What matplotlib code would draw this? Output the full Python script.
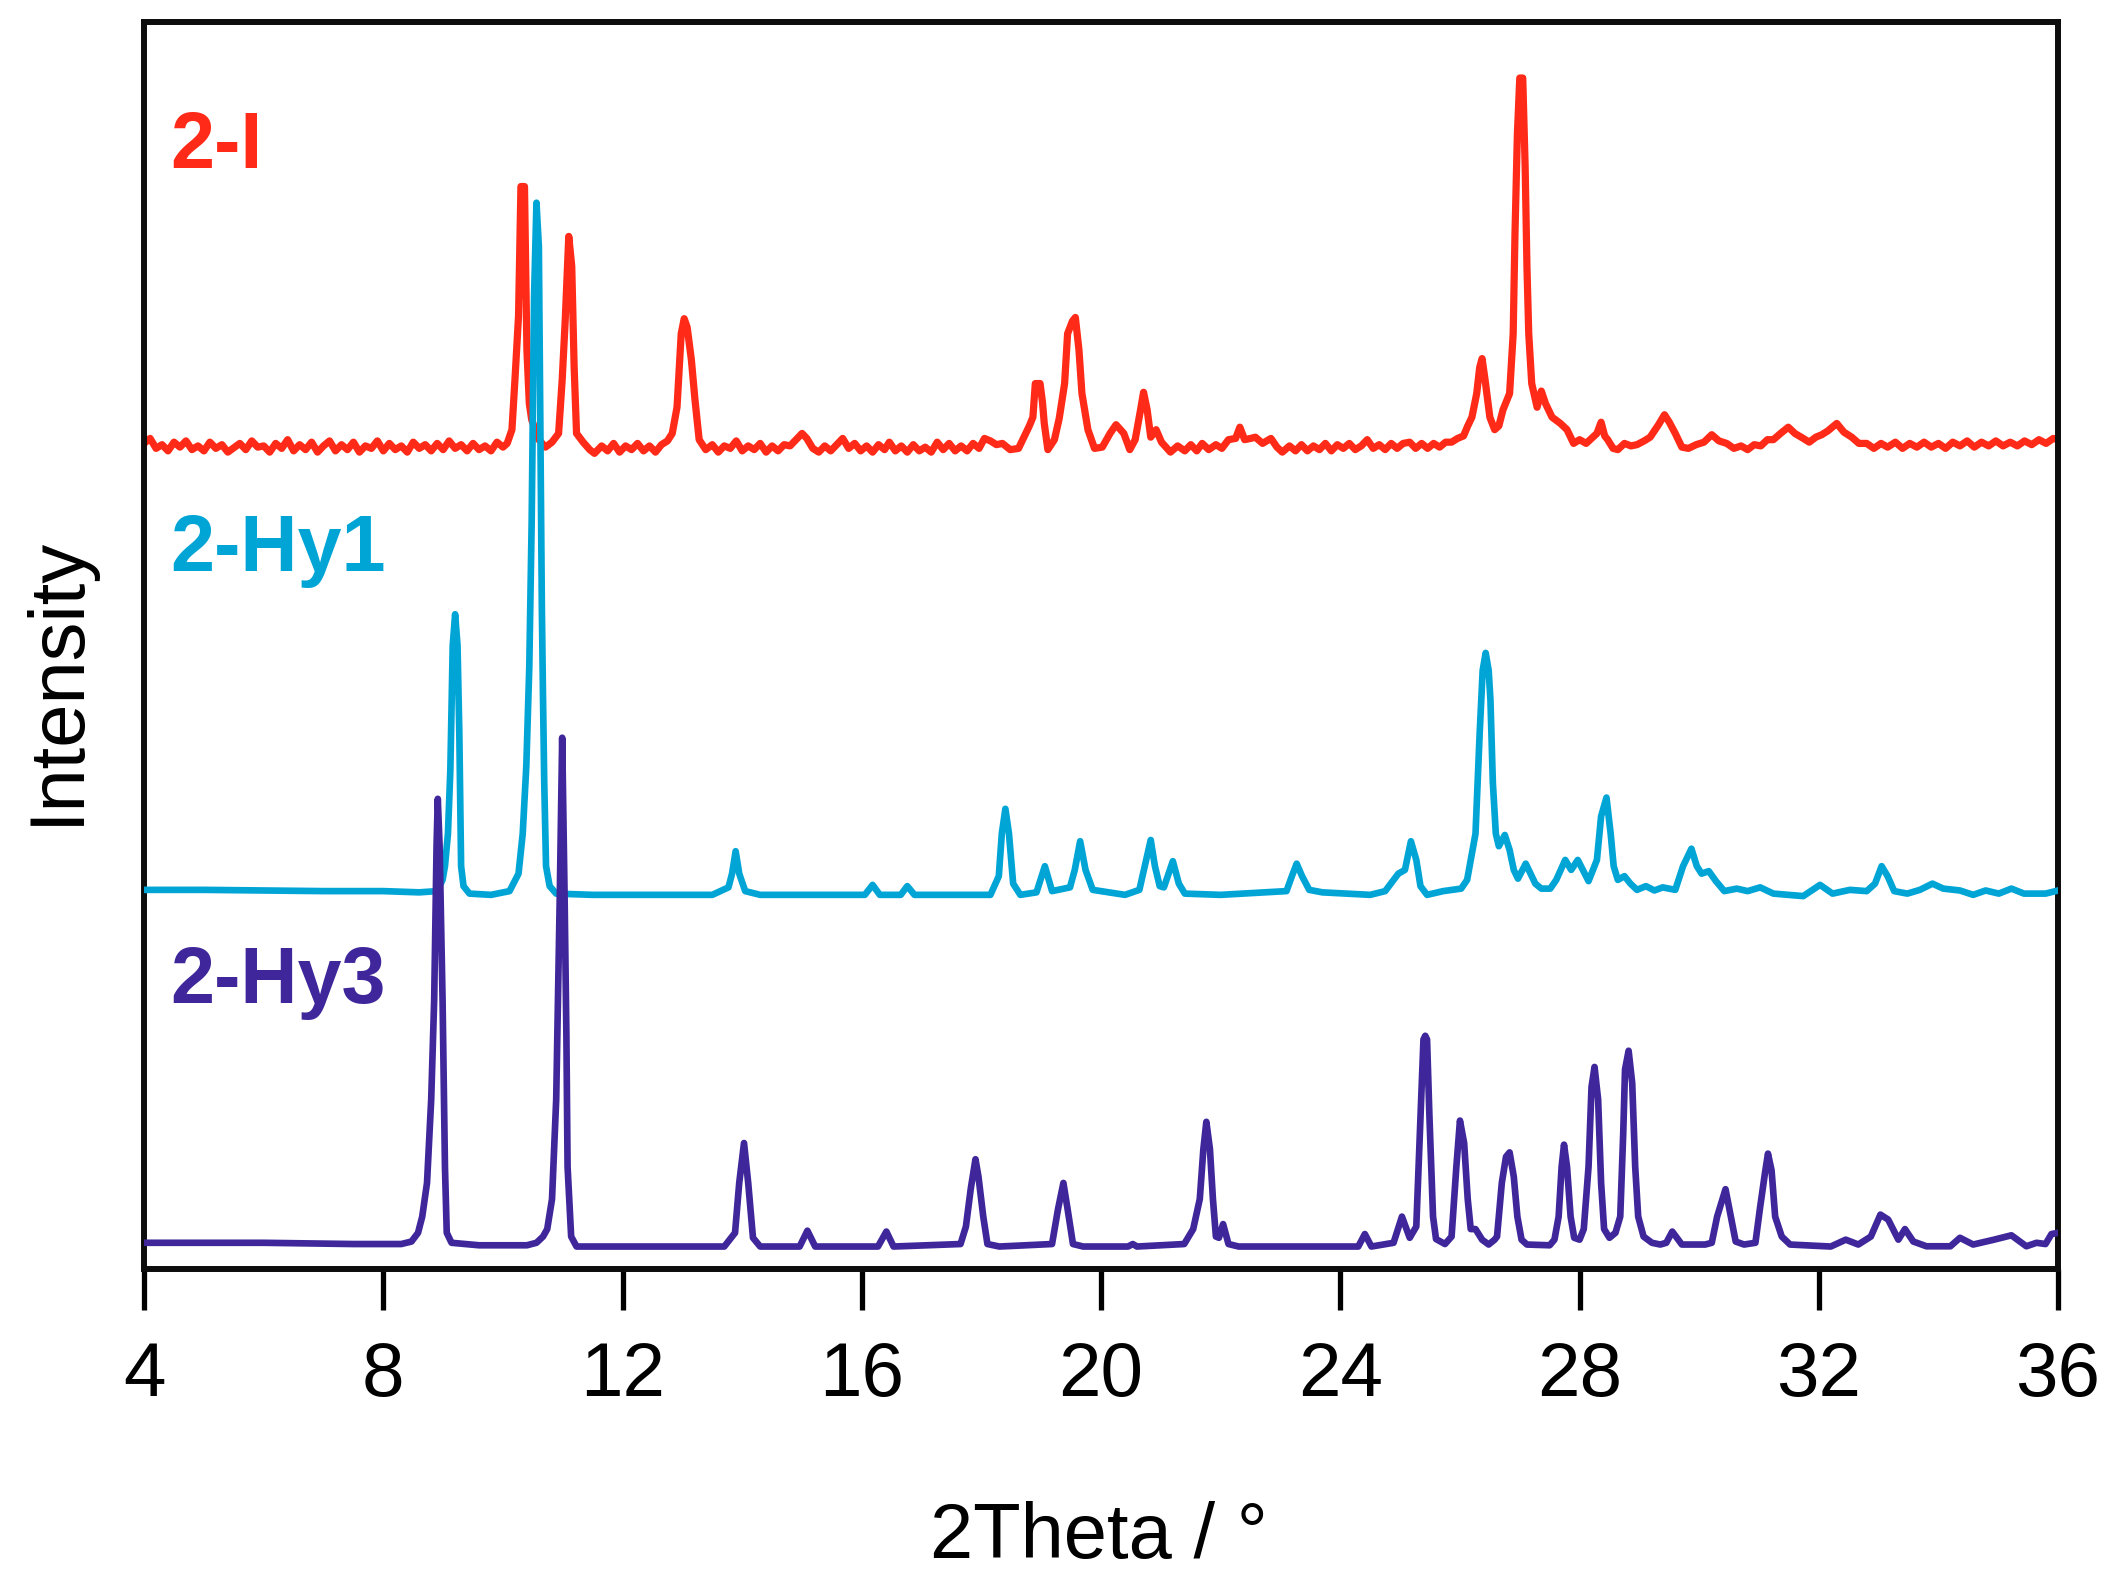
import matplotlib
matplotlib.use("Agg")
import matplotlib.pyplot as plt

plt.rcParams['font.family'] = ['Liberation Sans', 'DejaVu Sans']

# ---------------- data ----------------
# y values: percent of the plot height (offset stacked traces)
red_x = [4.00, 4.10, 4.20, 4.30, 4.40, 4.50, 4.60, 4.70, 4.80, 4.90, 5.00, 5.10, 5.20, 5.30, 5.40,
         5.60, 5.70, 5.80, 5.90, 6.00, 6.10, 6.20, 6.30, 6.40, 6.50, 6.60, 6.70, 6.80, 6.90, 7.00,
         7.10, 7.20, 7.30, 7.40, 7.50, 7.60, 7.70, 7.80, 7.90, 8.00, 8.10, 8.20, 8.30, 8.40, 8.50,
         8.60, 8.70, 8.80, 8.90, 9.00, 9.10, 9.20, 9.30, 9.40, 9.50, 9.60, 9.70, 9.80, 9.90, 10.00,
         10.07, 10.15, 10.20, 10.26, 10.30, 10.36, 10.40, 10.44, 10.48, 10.60, 10.71, 10.82, 10.93,
         10.99, 11.04, 11.10, 11.15, 11.19, 11.23, 11.34, 11.45, 11.53, 11.65, 11.75, 11.85, 11.95,
         12.05, 12.15, 12.25, 12.35, 12.45, 12.55, 12.65, 12.75, 12.83, 12.91, 12.98, 13.03, 13.08,
         13.15, 13.21, 13.28, 13.39, 13.50, 13.60, 13.70, 13.80, 13.90, 14.00, 14.10, 14.20, 14.30,
         14.40, 14.50, 14.60, 14.70, 14.80, 14.90, 15.00, 15.08, 15.18, 15.28, 15.38, 15.48, 15.58,
         15.68, 15.78, 15.88, 15.98, 16.08, 16.18, 16.28, 16.38, 16.46, 16.56, 16.66, 16.76, 16.86,
         16.96, 17.06, 17.16, 17.26, 17.36, 17.46, 17.56, 17.66, 17.76, 17.86, 17.96, 18.05, 18.15,
         18.25, 18.35, 18.48, 18.62, 18.72, 18.80, 18.86, 18.90, 18.98, 19.02, 19.05, 19.11, 19.22,
         19.30, 19.39, 19.44, 19.52, 19.57, 19.63, 19.68, 19.78, 19.89, 20.02, 20.15, 20.25, 20.38,
         20.48, 20.57, 20.66, 20.71, 20.77, 20.83, 20.92, 21.01, 21.16, 21.28, 21.40, 21.50, 21.60,
         21.69, 21.80, 21.92, 22.02, 22.13, 22.25, 22.32, 22.40, 22.50, 22.58, 22.70, 22.84, 22.94,
         23.03, 23.15, 23.25, 23.35, 23.45, 23.55, 23.65, 23.75, 23.85, 23.95, 24.05, 24.15, 24.25,
         24.35, 24.45, 24.55, 24.65, 24.75, 24.85, 24.95, 25.05, 25.16, 25.26, 25.36, 25.46, 25.56,
         25.66, 25.76, 25.86, 25.96, 26.06, 26.13, 26.20, 26.28, 26.33, 26.37, 26.42, 26.50, 26.58,
         26.65, 26.72, 26.83, 26.89, 26.92, 26.96, 27.00, 27.05, 27.09, 27.12, 27.15, 27.20, 27.29,
         27.36, 27.43, 27.54, 27.68, 27.79, 27.90, 28.00, 28.11, 28.20, 28.29, 28.36, 28.42, 28.47,
         28.56, 28.64, 28.75, 28.86, 28.96, 29.08, 29.18, 29.25, 29.32, 29.42, 29.50, 29.60, 29.71,
         29.82, 29.95, 30.08, 30.21, 30.33, 30.46, 30.58, 30.70, 30.81, 30.92, 31.03, 31.14, 31.24,
         31.36, 31.49, 31.60, 31.74, 31.84, 31.95, 32.05, 32.15, 32.30, 32.42, 32.55, 32.67, 32.80,
         32.92, 33.04, 33.15, 33.28, 33.40, 33.52, 33.64, 33.76, 33.88, 34.00, 34.12, 34.24, 34.36,
         34.48, 34.60, 34.72, 34.84, 34.96, 35.08, 35.20, 35.32, 35.44, 35.56, 35.68, 35.80, 35.92,
         36.00]
red_y = [66.2, 66.6, 65.8, 66.1, 65.6, 66.3, 65.9, 66.4, 65.7, 66.0, 65.6, 66.3, 65.8, 66.1, 65.5,
         66.2, 65.7, 66.4, 65.9, 66.0, 65.5, 66.2, 65.8, 66.5, 65.6, 66.1, 65.7, 66.3, 65.5, 66.0,
         66.4, 65.6, 66.1, 65.7, 66.3, 65.5, 66.0, 65.8, 66.4, 65.6, 66.2, 65.7, 66.0, 65.5, 66.3,
         65.8, 66.1, 65.6, 66.2, 65.7, 66.4, 65.8, 66.1, 65.6, 66.2, 65.7, 66.0, 65.6, 66.3, 65.9,
         66.2, 67.3, 71.3, 76.4, 86.8, 86.8, 73.7, 69.4, 68.1, 66.5, 65.9, 66.3, 67.0,
         71.3, 76.0, 82.8, 80.4, 72.3, 67.0, 66.3, 65.7, 65.4, 66.0, 65.6, 66.2, 65.5,
         66.0, 65.7, 66.2, 65.6, 66.0, 65.5, 66.1, 66.4, 67.0, 69.1, 75.0, 76.2, 75.5,
         72.9, 69.7, 66.5, 65.7, 66.1, 65.5, 66.0, 65.8, 66.4, 65.6, 66.0, 65.7, 66.2,
         65.5, 66.0, 65.6, 66.1, 66.0, 66.5, 67.0, 66.6, 65.8, 65.5, 66.0, 65.6, 66.1,
         66.6, 65.8, 66.2, 65.6, 66.0, 65.5, 66.1, 65.7, 66.3, 65.6, 66.0, 65.5, 66.1,
         65.6, 65.9, 65.5, 66.3, 65.7, 66.2, 65.6, 66.0, 65.6, 66.2, 65.8, 66.6, 66.4,
         66.1, 66.2, 65.7, 65.8, 66.8, 67.6, 68.3, 71.0, 71.0, 69.5, 67.8, 65.7, 66.5,
         68.2, 71.0, 75.0, 76.0, 76.3, 73.7, 70.2, 67.3, 65.8, 65.9, 67.0, 67.7, 67.0,
         65.7, 66.5, 68.9, 70.3, 68.9, 66.7, 67.3, 66.3, 65.5, 66.0, 65.6, 66.1, 65.6,
         66.2, 65.7, 66.1, 65.8, 66.5, 66.6, 67.5, 66.5, 66.6, 66.7, 66.2, 66.6, 65.9,
         65.5, 66.0, 65.6, 66.1, 65.6, 66.0, 65.7, 66.2, 65.6, 66.1, 65.8, 66.2, 65.7,
         66.0, 66.5, 65.8, 66.1, 65.7, 66.2, 65.8, 66.2, 66.3, 65.8, 66.2, 65.8, 66.2,
         65.9, 66.3, 66.3, 66.6, 66.8, 67.6, 68.3, 70.2, 72.3, 73.0, 71.3, 68.3, 67.3,
         67.6, 68.9, 70.2, 75.0, 83.0, 91.0, 95.5, 95.5, 88.4, 80.4, 75.0, 71.0, 69.1,
         70.4, 69.4, 68.3, 67.8, 67.3, 66.2, 66.5, 66.2, 66.6, 67.0, 67.9, 66.8, 66.5,
         65.8, 65.7, 66.2, 66.0, 66.1, 66.4, 66.7, 67.2, 67.7, 68.5, 67.9, 67.0, 65.9,
         65.8, 66.1, 66.3, 66.9, 66.4, 66.2, 65.8, 66.0, 65.7, 66.1, 66.0, 66.5, 66.5,
         67.0, 67.5, 67.0, 66.6, 66.3, 66.7, 66.9, 67.2, 67.8, 67.1, 66.7, 66.2, 66.2,
         65.8, 66.2, 65.9, 66.3, 65.8, 66.2, 65.9, 66.3, 65.9, 66.2, 65.8, 66.3, 66.0,
         66.4, 65.9, 66.3, 66.0, 66.4, 66.0, 66.3, 66.0, 66.4, 66.1, 66.5, 66.2, 66.6,
         66.5]

cyan_x = [4.00, 5.00, 6.00, 7.00, 8.00, 8.60, 8.90, 8.99, 9.03, 9.08, 9.12, 9.16, 9.20, 9.24, 9.27,
          9.30, 9.34, 9.44, 9.80, 10.11, 10.26, 10.33, 10.39, 10.44, 10.48, 10.52, 10.56, 10.60,
          10.63, 10.65, 10.67, 10.69, 10.72, 10.78, 10.89, 11.50, 12.50, 13.50, 13.77, 13.83, 13.89,
          13.95, 14.05, 14.30, 15.50, 16.05, 16.18, 16.30, 16.65, 16.76, 16.88, 18.15, 18.29, 18.34,
          18.40, 18.46, 18.53, 18.65, 18.92, 19.06, 19.18, 19.48, 19.56, 19.65, 19.74, 19.86, 20.40,
          20.64, 20.73, 20.83, 20.90, 20.98, 21.05, 21.20, 21.30, 21.40, 22.00, 23.10, 23.19, 23.27,
          23.36, 23.48, 23.70, 24.50, 24.75, 24.97, 25.08, 25.18, 25.27, 25.34, 25.45, 25.72, 26.02,
          26.12, 26.26, 26.33, 26.38, 26.43, 26.48, 26.51, 26.55, 26.60, 26.65, 26.75, 26.83, 26.90,
          26.97, 27.10, 27.26, 27.36, 27.51, 27.61, 27.76, 27.86, 27.97, 28.15, 28.29, 28.36, 28.45,
          28.52, 28.57, 28.64, 28.75, 28.85, 28.96, 29.11, 29.25, 29.39, 29.60, 29.73, 29.87, 29.96,
          30.04, 30.16, 30.28, 30.42, 30.63, 30.81, 31.02, 31.24, 31.50, 31.74, 32.02, 32.23, 32.52,
          32.80, 32.94, 33.05, 33.15, 33.26, 33.48, 33.69, 33.90, 34.08, 34.36, 34.58, 34.79, 35.01,
          35.22, 35.43, 35.79, 36.00]
cyan_y = [30.4, 30.4, 30.35, 30.3, 30.3, 30.2, 30.3, 31.2, 32.3, 34.9, 40.0, 50.0, 52.5, 50.0, 43.0,
          32.3, 30.7, 30.1, 30.0, 30.3, 31.7, 34.9, 40.3, 48.3, 60.0, 78.0, 85.5, 82.0,
          65.0, 53.1, 45.6, 39.0, 32.3, 30.7, 30.1, 30.0, 30.0, 30.0, 30.6, 31.7, 33.5,
          31.7, 30.3, 30.0, 30.0, 30.0, 30.8, 30.0, 30.0, 30.7, 30.0, 30.0, 31.5, 34.9,
          36.9, 34.9, 30.9, 30.0, 30.2, 32.3, 30.3, 30.6, 32.0, 34.3, 32.0, 30.4, 30.0,
          30.4, 32.3, 34.4, 32.3, 30.7, 30.6, 32.7, 30.9, 30.1, 30.0, 30.3, 31.5, 32.5,
          31.5, 30.4, 30.2, 30.0, 30.3, 31.7, 32.0, 34.3, 32.8, 30.7, 30.0, 30.3, 30.5,
          31.2, 34.9, 43.0, 48.0, 49.4, 48.0, 45.6, 39.0, 34.9, 33.9, 34.8, 33.6, 32.0,
          31.3, 32.5, 30.9, 30.5, 30.5, 31.2, 32.8, 32.0, 32.8, 31.1, 32.8, 36.3, 37.8,
          34.9, 32.3, 31.2, 31.5, 30.9, 30.4, 30.7, 30.35, 30.6, 30.4, 32.3, 33.7, 32.3,
          31.7, 31.9, 31.1, 30.3, 30.5, 30.3, 30.6, 30.1, 30.0, 29.9, 30.8, 30.1, 30.4,
          30.3, 30.9, 32.3, 31.5, 30.3, 30.1, 30.4, 30.9, 30.5, 30.35, 30.0, 30.35, 30.1,
          30.5, 30.1, 30.1, 30.35]

purple_x = [4.00, 6.00, 7.50, 8.30, 8.47, 8.58, 8.65, 8.73, 8.80, 8.85, 8.89, 8.91, 8.94, 8.99, 9.03,
            9.06, 9.14, 9.60, 10.40, 10.56, 10.67, 10.74, 10.82, 10.89, 10.95, 10.99, 11.03, 11.06,
            11.08, 11.14, 11.23, 12.50, 13.70, 13.88, 13.95, 14.03, 14.10, 14.18, 14.30, 14.96, 15.09,
            15.22, 16.27, 16.41, 16.53, 17.65, 17.74, 17.82, 17.90, 17.95, 18.03, 18.10, 18.30, 19.18,
            19.28, 19.37, 19.44, 19.53, 19.70, 20.45, 20.53, 20.60, 21.39, 21.54, 21.65, 21.71, 21.76,
            21.82, 21.87, 21.92, 21.97, 22.04, 22.13, 22.30, 24.30, 24.41, 24.52, 24.89, 25.03, 25.16,
            25.27, 25.33, 25.39, 25.42, 25.45, 25.49, 25.55, 25.60, 25.75, 25.86, 25.94, 26.00, 26.07,
            26.13, 26.18, 26.26, 26.37, 26.48, 26.58, 26.62, 26.70, 26.77, 26.83, 26.90, 26.96, 27.03,
            27.12, 27.50, 27.58, 27.65, 27.70, 27.74, 27.79, 27.85, 27.91, 28.00, 28.07, 28.15, 28.20,
            28.25, 28.31, 28.36, 28.41, 28.50, 28.60, 28.68, 28.73, 28.76, 28.82, 28.88, 28.93, 28.98,
            29.07, 29.21, 29.35, 29.45, 29.55, 29.71, 30.10, 30.21, 30.30, 30.44, 30.53, 30.61, 30.75,
            30.94, 31.02, 31.10, 31.15, 31.21, 31.27, 31.38, 31.52, 32.20, 32.45, 32.66, 32.87, 33.03,
            33.16, 33.33, 33.44, 33.58, 33.80, 34.20, 34.36, 34.58, 34.93, 35.22, 35.47, 35.64, 35.79,
            35.89, 36.00]
purple_y = [2.1, 2.1, 2.0, 2.0, 2.2, 2.9, 4.2, 6.9, 13.6, 21.6, 34.0, 37.7, 34.0, 21.6, 8.2,
            2.9, 2.1, 1.9, 1.9, 2.1, 2.6, 3.2, 5.6, 13.6, 30.0, 42.6, 30.0, 18.9,
            8.2, 2.6, 1.8, 1.8, 1.8, 2.9, 6.9, 10.1, 6.9, 2.5, 1.8, 1.8, 3.07,
            1.8, 1.8, 3.0, 1.8, 2.0, 3.4, 6.4, 8.8, 7.4, 4.2, 2.0, 1.8, 2.0,
            4.8, 6.9, 4.8, 2.0, 1.8, 1.8, 2.0, 1.8, 2.0, 3.2, 5.6, 9.6, 11.8,
            9.6, 5.6, 2.6, 2.5, 3.6, 2.0, 1.8, 1.8, 2.8, 1.8, 2.1, 4.2, 2.5,
            3.4, 10.9, 18.4, 18.7, 18.4, 12.2, 4.2, 2.4, 2.0, 2.6, 8.2, 11.9, 10.1,
            5.6, 3.2, 3.2, 2.35, 1.96, 2.35, 2.6, 6.9, 9.0, 9.35, 7.4, 4.2, 2.35,
            1.96, 1.9, 2.35, 4.2, 8.2, 9.97, 8.2, 4.2, 2.5, 2.35, 3.2, 8.2, 14.6,
            16.2, 13.6, 6.9, 3.2, 2.5, 2.9, 4.2, 10.9, 16.0, 17.5, 14.9, 8.2, 4.2,
            2.6, 2.1, 1.96, 2.1, 3.0, 1.96, 1.96, 2.1, 4.2, 6.4, 4.2, 2.2, 1.96,
            2.1, 5.0, 7.7, 9.25, 7.9, 4.2, 2.6, 1.96, 1.8, 2.35, 1.96, 2.6, 4.36,
            3.96, 2.35, 3.2, 2.2, 1.82, 1.82, 2.5, 1.96, 2.35, 2.7, 1.82, 2.1, 2.0,
            2.8, 2.9]

series_names = ["2-I", "2-Hy1", "2-Hy3"]
series_colors = ["#FF2A17", "#00A5D6", "#3F279B"]
label_pos_x = [4.43, 4.43, 4.43]
label_pos_y = [88.3, 56.0, 21.3]
xticks = [4, 8, 12, 16, 20, 24, 28, 32, 36]

# ---------------- figure ----------------
fig = plt.figure(figsize=(21.13, 15.75), dpi=100)
ax = fig.add_axes([0.0682, 0.1943, 0.9058, 0.7918])

ax.plot(red_x, red_y, color=series_colors[0], lw=5.2, zorder=2, solid_joinstyle='round')
ax.plot(cyan_x, cyan_y, color=series_colors[1], lw=4.8, zorder=3, solid_joinstyle='round')
ax.plot(purple_x, purple_y, color=series_colors[2], lw=4.8, zorder=4, solid_joinstyle='round')

for name, col, lx, ly in zip(series_names, series_colors, label_pos_x, label_pos_y):
    ax.text(lx, ly, name, color=col, fontsize=57, fontweight='bold',
            ha='left', va='baseline')

ax.set_xlim(4, 36)
ax.set_ylim(0, 100)
ax.set_xticks(xticks)
ax.set_xticklabels([str(t) for t in xticks])
ax.set_yticks([])
ax.tick_params(axis='x', direction='out', length=29.5, width=3.8, pad=22,
               labelsize=55, colors='black')
for sp in ax.spines.values():
    sp.set_linewidth(4.3)
    sp.set_color('#0d0d0d')

fig.text(0.027, 0.568, "Intensity", rotation=90, ha='center', va='center', fontsize=56)
fig.text(0.520, 1 - 1558 / 1575, "2Theta / \u00b0", ha='center', va='baseline', fontsize=56)

fig.savefig("out.png", dpi=100, facecolor='white')
